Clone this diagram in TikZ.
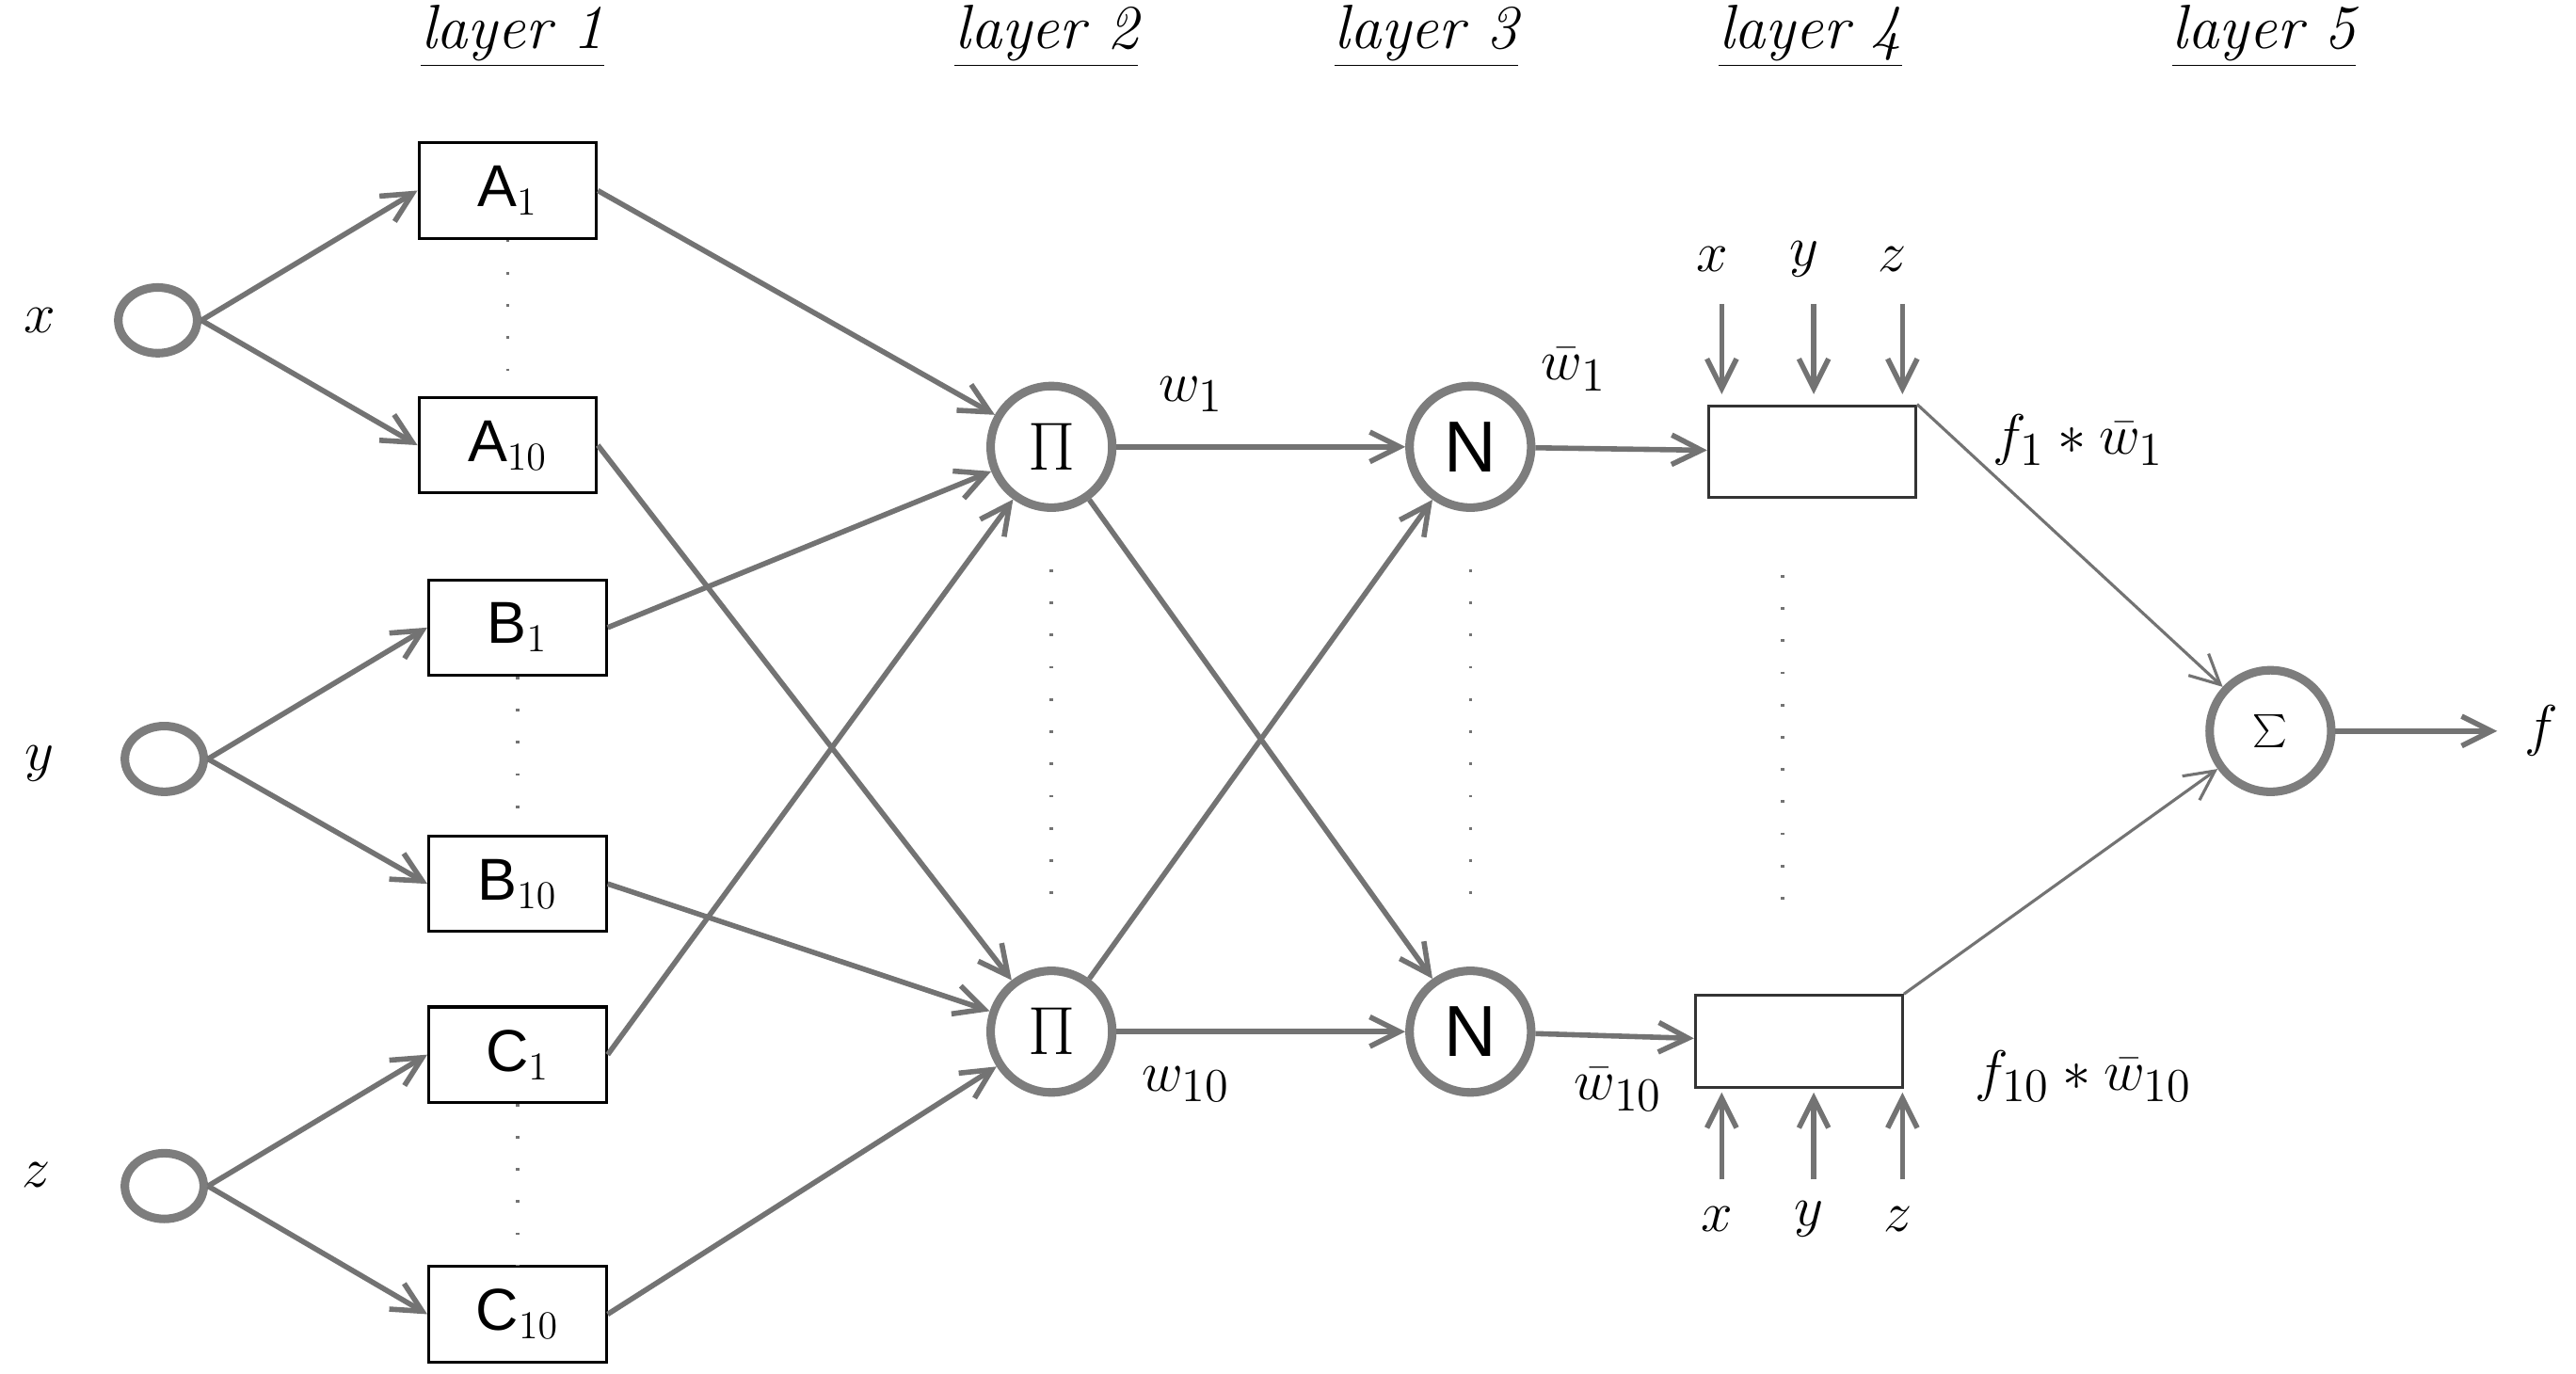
\documentclass[tikz,border=0pt]{standalone}
\usepackage{fontspec}
\newfontfamily\sansf{Liberation Sans}
\usetikzlibrary{arrows.meta,shapes.geometric}
\definecolor{ln}{RGB}{115,115,115}
\definecolor{cir}{RGB}{125,125,125}
\begin{document}
\begin{tikzpicture}[x=0.5pt,y=-0.5pt,
  con/.style={draw=ln,line width=1.6pt,-{Straight Barb[length=9pt,width=9pt]}},
  thin con/.style={draw=ln,line width=0.9pt,-{Straight Barb[length=9pt,width=9pt]}},
  inp/.style={draw=cir,line width=2.6pt,ellipse,minimum width=24pt,minimum height=20pt,inner sep=0pt},
  op/.style={draw=cir,line width=2.6pt,circle,minimum size=37pt,inner sep=0pt,font=\sansf\fontsize{22}{22}\selectfont},
  box/.style={draw=black,line width=0.9pt,minimum width=54pt,minimum height=29pt,inner sep=0pt,font=\sansf\fontsize{18}{18}\selectfont},
  rbox/.style={draw=black!80,line width=0.9pt,minimum width=63pt,minimum height=28pt,inner sep=0pt},
  ttl/.style={font=\itshape\fontsize{19}{19}\selectfont},
  lab/.style={font=\fontsize{19}{19}\selectfont},
  dots/.style={draw=ln,line width=1pt,dash pattern=on 0.8pt off 9pt}]
\useasboundingbox (0,0) rectangle (1568,836);
\foreach \t/\x in {1/312,2/637,3/868,4/1102,5/1378}
  \node[ttl] (t\t) at (\x,22) {\underline{layer \t}};
\node[lab] (lx) at (24,195) {$x$};
\node[lab] (ly) at (24,465) {$y$};
\node[lab] (lz) at (22,715) {$z$};
\node[inp] (X) at (96,195) {};
\node[inp] (Y) at (100,462) {};
\node[inp] (Z) at (100,722) {};
\node[box] (A1) at (309,116) {A$_1$};
\node[box] (A10) at (309,271) {A$_{10}$};
\node[box] (B1) at (315,382) {B$_1$};
\node[box] (B10) at (315,538) {B$_{10}$};
\node[box] (C1) at (315,642) {C$_1$};
\node[box] (C10) at (315,800) {C$_{10}$};
\draw[dots] (A1.south) -- (A10.north);
\draw[dots] (B1.south) -- (B10.north);
\draw[dots] (C1.south) -- (C10.north);
\node[op] (P1) at (640,272) {$\Pi$};
\node[op] (P2) at (640,628) {$\Pi$};
\node[op] (N1) at (895,272) {N};
\node[op] (N2) at (895,628) {N};
\node[op] (S) at (1382,445) {$\sum$};
\draw[dots] (P1.south) ++(0,35) -- ++(0,210);
\draw[dots] (N1.south) ++(0,35) -- ++(0,210);
\node[rbox] (R1) at (1103,275) {};
\node[rbox] (R2) at (1095,634) {};
\draw[dots] (1085,350) -- (1085,560);
\foreach \s/\a/\b in {X/A1/A10,Y/B1/B10,Z/C1/C10}{
  \draw[con] (\s.east) -- (\a.west);
  \draw[con] (\s.east) -- (\b.west);}
\draw[con] (A1.east) -- (P1);
\draw[con] (B1.east) -- (P1);
\draw[con] (C1.east) -- (P1);
\draw[con] (A10.east) -- (P2);
\draw[con] (B10.east) -- (P2);
\draw[con] (C10.east) -- (P2);
\draw[con] (P1) -- (N1);
\draw[con] (P1) -- (N2);
\draw[con] (P2) -- (N1);
\draw[con] (P2) -- (N2);
\draw[con] (N1) -- (R1);
\draw[con] (N2) -- (R2);
\draw[thin con] (R1.north east) -- (S);
\draw[thin con] (R2.north east) -- (S);
\coordinate (fend) at (1520,445);
\draw[con] (S) -- (fend);
\node[lab] (f) at (1547,445) {$f$};
\node[lab] (w1) at (725,240) {$w_1$};
\node[lab] (w10) at (722,660) {$w_{10}$};
\node[lab] (wb1) at (958,225) {$\bar w_1$};
\node[lab] (wb10) at (985,663) {$\bar w_{10}$};
\node[lab] (fw1) at (1265,268) {$f_1 * \bar w_1$};
\node[lab] (fw10) at (1268,655) {$f_{10} * \bar w_{10}$};
\foreach \v/\x in {x/1048,y/1104,z/1158}{
  \node[lab] (u\v) at (\x-6,158) {$\v$};
  \coordinate (us\v) at (\x,185);
  \draw[con] (us\v) -- (\x,240);
  \node[lab] (d\v) at (\x-3,742) {$\v$};
  \coordinate (ds\v) at (\x,718);
  \draw[con] (ds\v) -- (\x,665);}
\end{tikzpicture}
\end{document}
